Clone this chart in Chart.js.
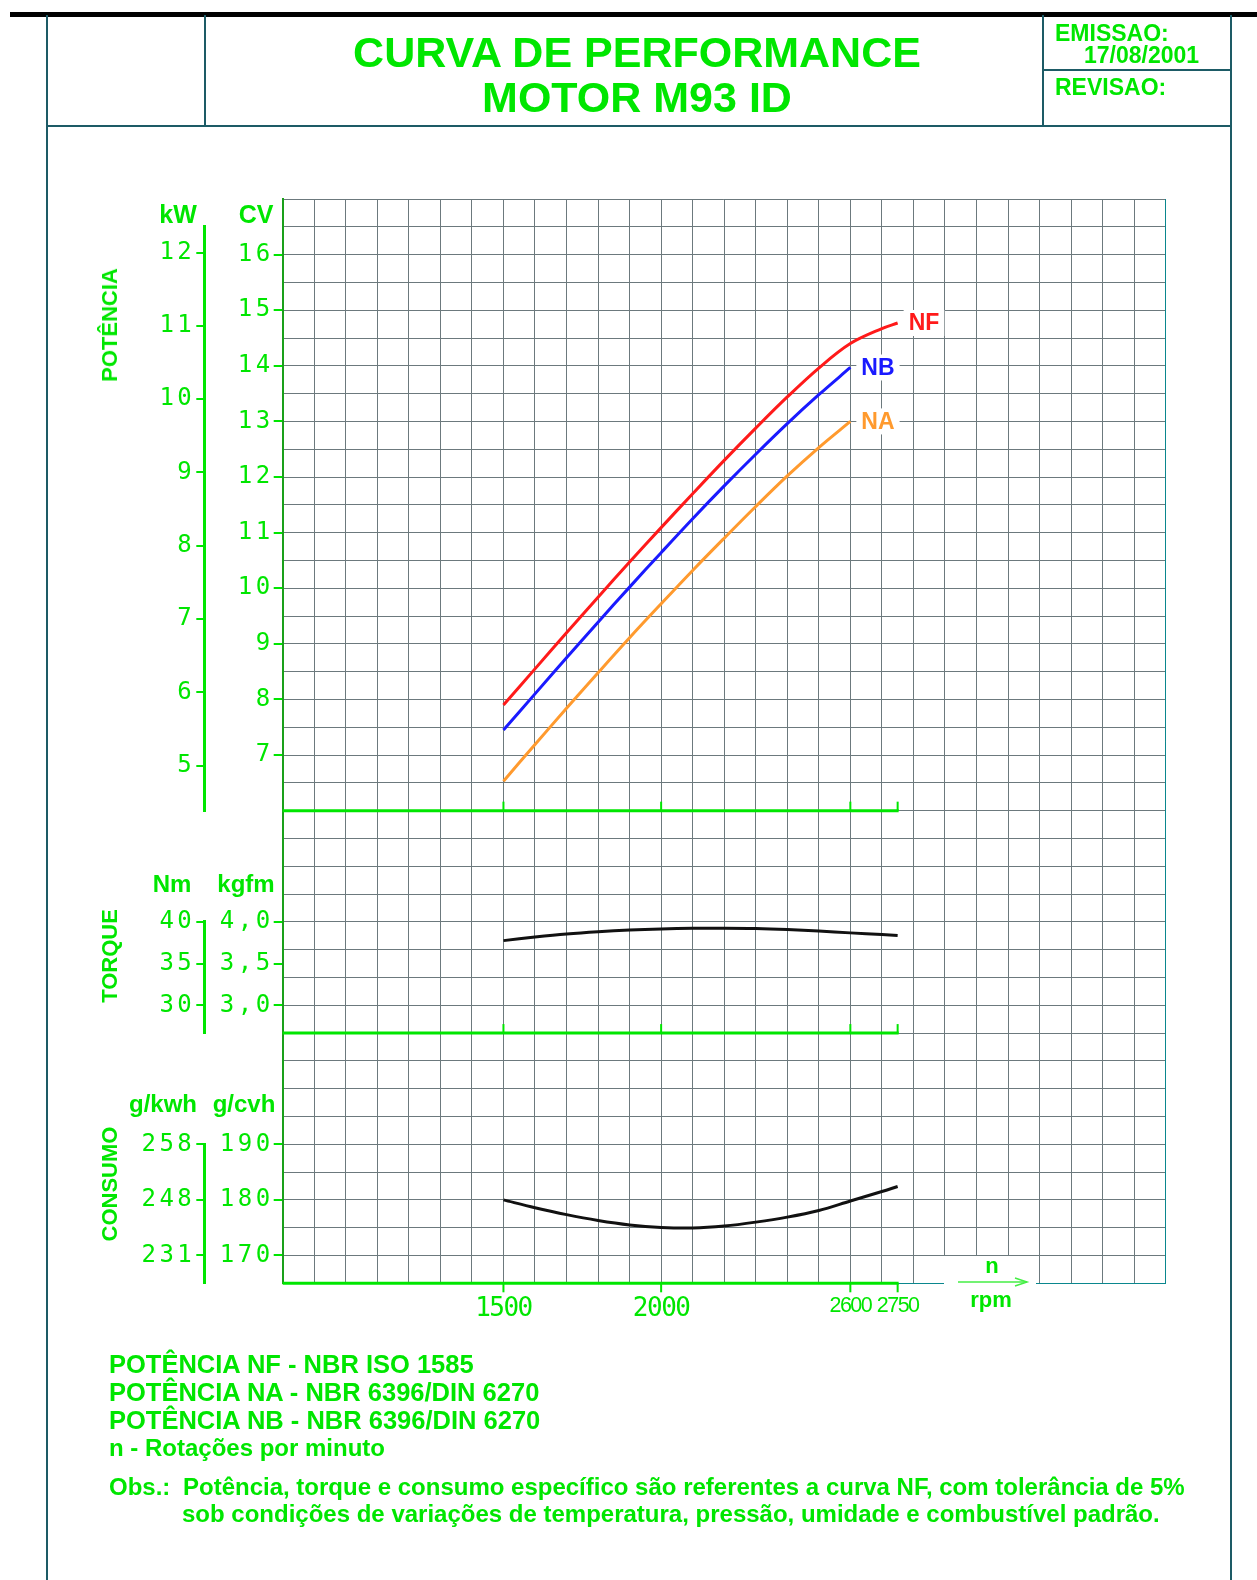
<!DOCTYPE html>
<html>
<head>
<meta charset="utf-8">
<script src="https://cdn.jsdelivr.net/npm/chart.js@4.4.1/dist/chart.umd.min.js"></script>
<style>
  body { margin: 0; background: #fff; }
  #page { position: relative; width: 1257px; height: 1580px; overflow: hidden; font-family: "Liberation Sans", Arial, sans-serif; }
  #chart { position: absolute; left: 0; top: 0; }
  .ln { position: absolute; background: #1d5b66; }
  .g { position: absolute; color: #00e600; font-weight: bold; white-space: nowrap; }
  .c { transform: translate(-50%, -50%); }
  .v { transform: translate(-50%, -50%) rotate(-90deg); }
  .m { transform: translateY(-50%); }
</style>
</head>
<body>
<div id="page">
  <canvas id="chart" width="1257" height="1580"></canvas>

  <!-- frame -->
  <div class="ln" style="left:10px;top:12px;width:1247px;height:5px;background:#000"></div>
  <div class="ln" style="left:46px;top:15px;width:2px;height:1565px"></div>
  <div class="ln" style="left:1230px;top:15px;width:2px;height:1565px"></div>
  <div class="ln" style="left:47px;top:125px;width:1185px;height:2px"></div>
  <div class="ln" style="left:204px;top:15px;width:2px;height:111px"></div>
  <div class="ln" style="left:1042px;top:15px;width:2px;height:111px"></div>
  <div class="ln" style="left:1043px;top:69px;width:188px;height:2px"></div>

  <!-- header -->
  <div class="g c" style="left:637px;top:52px;font-size:43px">CURVA DE PERFORMANCE</div>
  <div class="g c" style="left:637px;top:97px;font-size:43px">MOTOR M93 ID</div>
  <div class="g m" style="left:1055px;top:33px;font-size:23px">EMISSAO:</div>
  <div class="g m" style="left:1084px;top:55px;font-size:23px">17/08/2001</div>
  <div class="g m" style="left:1055px;top:87px;font-size:23px">REVISAO:</div>

  <!-- axis titles -->
  <div class="g v" style="left:110px;top:325px;font-size:22px">POTÊNCIA</div>
  <div class="g v" style="left:110px;top:956px;font-size:22px">TORQUE</div>
  <div class="g v" style="left:110px;top:1184px;font-size:22px">CONSUMO</div>
  <div class="g c" style="left:178px;top:214px;font-size:25px">kW</div>
  <div class="g c" style="left:256px;top:214px;font-size:25px">CV</div>
  <div class="g c" style="left:172px;top:884px;font-size:24px">Nm</div>
  <div class="g c" style="left:246px;top:884px;font-size:24px">kgfm</div>
  <div class="g c" style="left:163px;top:1104px;font-size:24px">g/kwh</div>
  <div class="g c" style="left:244px;top:1104px;font-size:24px">g/cvh</div>

  <!-- rpm label -->
  <div style="position:absolute;left:944px;top:1256px;width:92px;height:30px;background:#fff"></div>
  <div class="g c" style="left:992px;top:1266px;font-size:22px">n</div>
  <svg style="position:absolute;left:955px;top:1276px" width="76" height="12">
    <line x1="3" y1="6" x2="72" y2="6" stroke="#44ee44" stroke-width="1.5"/>
    <polyline points="60,2 72,6 60,10" fill="none" stroke="#44ee44" stroke-width="1.5"/>
  </svg>
  <div class="g c" style="left:991px;top:1300px;font-size:22px">rpm</div>

  <!-- notes -->
  <div class="g m" style="left:109px;top:1364px;font-size:25.5px">POTÊNCIA NF - NBR ISO 1585</div>
  <div class="g m" style="left:109px;top:1392px;font-size:25.5px">POTÊNCIA NA - NBR 6396/DIN 6270</div>
  <div class="g m" style="left:109px;top:1420px;font-size:25.5px">POTÊNCIA NB - NBR 6396/DIN 6270</div>
  <div class="g m" style="left:109px;top:1448px;font-size:24px">n - Rotações por minuto</div>
  <div class="g m" style="left:109px;top:1487px;font-size:24px">Obs.:</div>
  <div class="g m" style="left:183px;top:1487px;font-size:24px">Potência, torque e consumo específico são referentes a curva NF, com tolerância de 5%</div>
  <div class="g m" style="left:182px;top:1514px;font-size:24px">sob condições de variações de temperatura, pressão, umidade e combustível padrão.</div>
</div>

<script>
// rotations (rpm)
var RPM_FULL = [1500, 1600, 1700, 1800, 1900, 2000, 2100, 2200, 2300, 2400, 2500, 2600, 2700, 2750];
var RPM_SHORT = [1500, 1600, 1700, 1800, 1900, 2000, 2100, 2200, 2300, 2400, 2500, 2600];

// power curves in CV
var POT_NF = [7.9, 8.55, 9.2, 9.84, 10.47, 11.09, 11.7, 12.3, 12.88, 13.44, 13.96, 14.4, 14.67, 14.77];
var POT_NB = [7.45, 8.1, 8.75, 9.39, 10.02, 10.64, 11.25, 11.84, 12.41, 12.96, 13.48, 13.97];
var POT_NA = [6.53, 7.19, 7.84, 8.48, 9.11, 9.72, 10.32, 10.9, 11.47, 12.02, 12.53, 13.0];

// torque in kgfm, specific consumption in g/cvh
var TORQUE = [3.775, 3.818, 3.855, 3.882, 3.902, 3.915, 3.922, 3.924, 3.92, 3.908, 3.89, 3.868, 3.848, 3.836];
var CONSUMO = [180.0, 178.6, 177.35, 176.3, 175.5, 175.05, 174.95, 175.3, 176.0, 176.9, 178.1, 179.8, 181.5, 182.4];

// tick labels
var KW_TICKS = [5, 6, 7, 8, 9, 10, 11, 12];
var CV_TICKS = [7, 8, 9, 10, 11, 12, 13, 14, 15, 16];
var NM_TICKS = [30, 35, 40];
var KGFM_TICKS = [3.0, 3.5, 4.0];
var GCVH_TICKS = [170, 180, 190];
var GKWH_LABELS = ['231', '248', '258'];
var X_LABELS = [1500, 2000, 2600, 2750];

var GREEN = '#00e600';
var TEAL = 'rgb(10,135,142)';
var PINK = 'rgba(255,100,100,0.4)';
var MONO = { family: '"DejaVu Sans Mono", monospace', size: 24 };

function pts(xs, ys) {
    return ys.map(function (y, i) { return { x: xs[i], y: y }; });
}

function fixTicks(list) {
    return function (scale) { scale.ticks = list.map(function (v) { return { value: v }; }); };
}

// Width helpers so the two left columns line up with the grid
function w(px) { return function (s) { s.width = px; }; }
function h(px) { return function (s) { s.height = px; }; }

// An invisible piece of the outer axis stack (leaves a gap in the axis line)
function spacer(weight, stackWeight) {
    return {
        type: 'linear', position: 'left', stack: 'outer', stackWeight: stackWeight, weight: weight,
        min: 0, max: 1, ticks: { display: false }, grid: { display: false, drawTicks: false },
        border: { display: false }, afterFit: w(104.3)
    };
}

function outerAxis(weight, stackWeight, min, max, list, cb) {
    return {
        type: 'linear', position: 'left', stack: 'outer', stackWeight: stackWeight, weight: weight,
        min: min, max: max, afterBuildTicks: fixTicks(list), afterFit: w(104.3),
        ticks: { color: GREEN, font: MONO, padding: 1, autoSkip: false, callback: cb },
        grid: { drawOnChartArea: false, tickLength: 8, color: GREEN, lineWidth: 2 },
        border: { color: GREEN, width: 3 }
    };
}

function innerAxis(weight, stackWeight, min, max, list, cb) {
    return {
        type: 'linear', position: 'left', stack: 'inner', stackWeight: stackWeight, weight: weight,
        min: min, max: max, afterBuildTicks: fixTicks(list), afterFit: w(78.4),
        ticks: { color: GREEN, font: MONO, padding: 0, autoSkip: false, callback: cb },
        grid: { drawOnChartArea: false, tickLength: 9, color: GREEN, lineWidth: 2 },
        border: { color: '#1aa01a', width: 2 }
    };
}

// The old plotter font is widely spaced on the y axes, tighter on the rpm axis
var spacing = {
    id: 'spacing',
    beforeDraw: function (chart) { chart.ctx.letterSpacing = '3.5px'; },
    afterDatasetsDraw: function (chart) { chart.ctx.letterSpacing = '-1.5px'; }
};

// Green axis line at the bottom of each section with rpm marks
var sectionAxes = {
    id: 'sectionAxes',
    beforeDatasetsDraw: function (chart) {
        var ctx = chart.ctx;
        var xs = chart.scales.xl;
        var x0 = chart.chartArea.left;
        var x1 = xs.getPixelForValue(X_LABELS[X_LABELS.length - 1]);
        ['cv', 'kgfm', 'gcvh'].forEach(function (id) {
            var y = chart.scales[id].bottom;
            var dir = id === 'gcvh' ? 1 : -1;
            ctx.save();
            ctx.strokeStyle = GREEN;
            ctx.lineWidth = 3;
            ctx.beginPath();
            ctx.moveTo(x0, y);
            ctx.lineTo(x1 + 1, y);
            ctx.stroke();
            ctx.lineWidth = 2;
            X_LABELS.forEach(function (v) {
                var x = xs.getPixelForValue(v);
                ctx.beginPath();
                ctx.moveTo(x, y);
                ctx.lineTo(x, y + dir * 9);
                ctx.stroke();
            });
            ctx.restore();
        });
    }
};

// NF / NB / NA names at the end of each power curve
var curveLabels = {
    id: 'curveLabels',
    afterDatasetsDraw: function (chart) {
        var ctx = chart.ctx;
        chart.data.datasets.forEach(function (ds, i) {
            if (!ds.curveLabel) return;
            var meta = chart.getDatasetMeta(i).data;
            var p = meta[meta.length - 1];
            ctx.save();
            ctx.letterSpacing = '0px';
            ctx.font = 'bold 23px "Liberation Sans", Arial, sans-serif';
            var tw = ctx.measureText(ds.label).width;
            ctx.fillStyle = '#fff';
            ctx.fillRect(p.x + 6, p.y - 13, tw + 10, 26);
            ctx.fillStyle = ds.borderColor;
            ctx.textBaseline = 'middle';
            ctx.fillText(ds.label, p.x + 11, p.y + 1);
            ctx.restore();
        });
    }
};

function curve(label, xs, ys, color, axis, named) {
    return {
        label: label, data: pts(xs, ys), borderColor: color, borderWidth: 3,
        pointRadius: 0, tension: 0.35, yAxisID: axis, xAxisID: 'x',
        curveLabel: named
    };
}

var ctx = document.getElementById('chart').getContext('2d');
var chart = new Chart(ctx, {
    type: 'line',
    data: {
        datasets: [
            curve('NA', RPM_SHORT, POT_NA, '#ff9a2e', 'cv', true),
            curve('NB', RPM_SHORT, POT_NB, '#1a1aff', 'cv', true),
            curve('NF', RPM_FULL, POT_NF, '#ff1a1a', 'cv', true),
            curve('Torque', RPM_FULL, TORQUE, '#111', 'kgfm', false),
            curve('Consumo', RPM_FULL, CONSUMO, '#111', 'gcvh', false)
        ]
    },
    options: {
        responsive: false,
        animation: false,
        devicePixelRatio: 1,
        layout: { padding: { left: 100, right: 91.3, top: 199, bottom: 256.7 } },
        plugins: { legend: { display: false }, tooltip: { enabled: false } },
        scales: {
            // grid paper: teal lines with a pink shadow
            x: {
                type: 'linear', position: 'bottom', min: 800, max: 3600, afterFit: h(0),
                ticks: { display: false, stepSize: 100, maxTicksLimit: 100 },
                grid: { color: TEAL, lineWidth: 1, drawTicks: false },
                border: { color: TEAL, width: 1 }
            },
            xr: {
                type: 'linear', position: 'bottom', min: 800 - 4.8, max: 3600 - 4.8, afterFit: h(0),
                ticks: { display: false, stepSize: 100, maxTicksLimit: 100 },
                grid: { color: PINK, lineWidth: 1, drawTicks: false },
                border: { display: false }
            },
            yg: {
                type: 'linear', position: 'right', min: 0, max: 39, afterFit: w(0),
                ticks: { display: false, stepSize: 1, maxTicksLimit: 100 },
                grid: { color: TEAL, lineWidth: 1, drawTicks: false },
                border: { color: TEAL, width: 1 }
            },
            yr: {
                type: 'linear', position: 'right', min: 0.054, max: 39.054, afterFit: w(0),
                ticks: { display: false, stepSize: 1, maxTicksLimit: 100 },
                grid: { color: PINK, lineWidth: 1, drawTicks: false },
                border: { display: false }
            },
            // rpm labels (drawn after the datasets)
            xl: {
                type: 'linear', position: 'bottom', min: 800, max: 3600, afterFit: h(40),
                afterBuildTicks: fixTicks(X_LABELS),
                ticks: {
                    z: 1, color: GREEN, padding: 10, autoSkip: false, maxRotation: 0,
                    font: function (c) {
                        return c.tick && c.tick.value > 2500
                            ? { family: '"Liberation Sans", sans-serif', size: 21.5 }
                            : { family: '"DejaVu Sans Mono", monospace', size: 26 };
                    },
                    callback: function (v) { return String(v); }
                },
                grid: { display: false, drawTicks: false },
                border: { display: false }
            },
            // outer column: kW, Nm, g/kwh
            kwTop: spacer(100, 1),
            kw: outerAxis(99, 21, 4.386, 12.352, KW_TICKS),
            nmGap: spacer(98, 4),
            nm: outerAxis(97, 4, 26.667, 40, NM_TICKS),
            gkGap: spacer(96, 4),
            gkwh: outerAxis(95, 5, 165, 190, GCVH_TICKS, function (v) {
                return GKWH_LABELS[GCVH_TICKS.indexOf(v)];
            }),
            // inner column: CV, kgfm, g/cvh
            cv: innerAxis(90, 22, 6, 17, CV_TICKS),
            kgfm: innerAxis(89, 8, 2.6667, 5.3333, KGFM_TICKS, function (v) {
                return v.toFixed(1).replace('.', ',');
            }),
            gcvh: innerAxis(88, 9, 165, 210, GCVH_TICKS)
        }
    },
    plugins: [spacing, sectionAxes, curveLabels]
});
</script>
</body>
</html>
